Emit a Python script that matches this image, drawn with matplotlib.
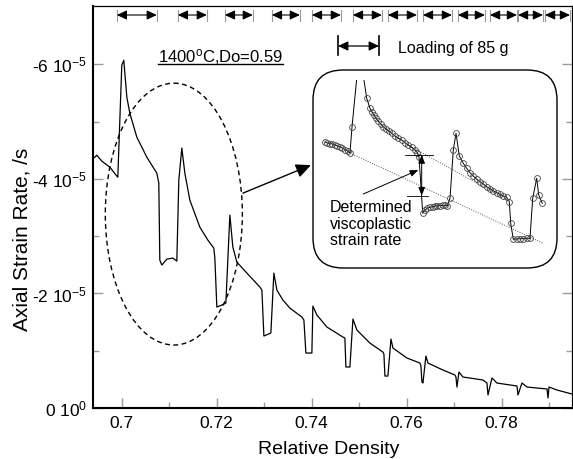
import matplotlib
matplotlib.use("Agg")
import matplotlib.pyplot as plt
import matplotlib.transforms as mtransforms
from matplotlib.patches import Ellipse, FancyBboxPatch

plt.rcParams['font.family'] = ['Liberation Sans', 'DejaVu Sans']
plt.rcParams['mathtext.fontset'] = 'custom'
plt.rcParams['mathtext.rm'] = 'Liberation Sans'
plt.rcParams['mathtext.default'] = 'regular'

# ---- main curve: relative density vs axial strain rate (units of 1e-5 /s)
density = [0.69396, 0.69438, 0.69480, 0.69585, 0.69754, 0.69901, 0.69922,
           0.70006, 0.70048, 0.70112, 0.70175, 0.70322, 0.70533, 0.70743, 0.70785,
           0.70806, 0.70848, 0.70954, 0.71080, 0.71164,
           0.71206, 0.71269, 0.71333, 0.71438, 0.71648, 0.71817, 0.71943, 0.71964,
           0.72006, 0.72112, 0.72196,
           0.72280, 0.72343, 0.72427, 0.72638, 0.72912, 0.72954,
           0.72996, 0.73143,
           0.73206, 0.73270, 0.73396, 0.73543, 0.73796, 0.73838,
           0.73880, 0.74006,
           0.74027, 0.74112, 0.74322, 0.74659, 0.74701,
           0.74722, 0.74806,
           0.74870, 0.74954, 0.75227, 0.75501, 0.75522,
           0.75543, 0.75606,
           0.75670, 0.75712, 0.76006, 0.76280, 0.76301,
           0.76322, 0.76343,
           0.76406, 0.76449, 0.76764, 0.77017, 0.77038,
           0.77059,
           0.77101, 0.77185, 0.77606, 0.77691,
           0.77712,
           0.77796, 0.77901, 0.78322,
           0.78343,
           0.78427, 0.78533, 0.78954,
           0.78975,
           0.78996, 0.79164, 0.79480]
rate = [-4.363, -4.380, -4.415, -4.311, -4.206, -4.049, -4.031,
        -5.986, -6.073, -5.428, -5.148, -4.730, -4.380, -4.101, -3.927,
        -2.583, -2.496, -2.600, -2.618, -2.565,
        -3.979, -4.538, -4.101, -3.630, -3.159, -2.932, -2.792, -2.618,
        -1.763, -1.798, -1.832,
        -3.368, -2.810, -2.548, -2.356, -2.112, -2.059,
        -1.257, -1.309,
        -2.356, -2.059, -1.885, -1.745, -1.588, -1.536,
        -0.960, -0.960,
        -1.780, -1.623, -1.414, -1.239, -1.222,
        -0.716, -0.716,
        -1.553, -1.361, -1.134, -0.977, -0.942,
        -0.558, -0.558,
        -1.204, -1.047, -0.873, -0.785, -0.733,
        -0.454, -0.436,
        -0.908, -0.785, -0.663, -0.576, -0.541,
        -0.366,
        -0.628, -0.541, -0.489, -0.436,
        -0.227,
        -0.524, -0.436, -0.384,
        -0.227,
        -0.436, -0.366, -0.332,
        -0.175,
        -0.366, -0.314, -0.244]

# loading periods (relative density at start / end of each load)
load_start = [0.69901, 0.71185, 0.72175, 0.73164, 0.74006, 0.74869,
              0.75606, 0.76343, 0.77080, 0.77754, 0.78343, 0.78912]
load_end = [0.70743, 0.71796, 0.72764, 0.73754, 0.74617, 0.75480,
            0.76217, 0.76954, 0.77648, 0.78322, 0.78869, 0.79438]

xticks = [0.70, 0.72, 0.74, 0.76, 0.78]
xtick_labels = ['0.7', '0.72', '0.74', '0.76', '0.78']
yticks = [0, -2, -4, -6]
ytick_labels = ['0 10$^0$', '-2 10$^{-5}$', '-4 10$^{-5}$', '-6 10$^{-5}$']

# ---- inset (zoomed view, inset units 0-100)
ins_u = [4.92, 5.94, 6.97, 7.99, 9.02, 10.04, 11.07, 12.09, 13.11, 14.14, 15.16,
         15.98, 19.06,
         22.01, 23.36, 24.06, 25.0, 25.82, 26.76, 27.75, 28.81, 29.92, 31.02, 32.25,
         33.61, 34.96, 36.35, 37.70, 39.06, 40.45, 41.80, 42.75, 43.44,
         44.96, 45.90, 46.84, 47.95, 49.06, 50.0, 50.94, 52.05, 53.16, 54.22, 55.04,
         56.15, 57.50, 58.61, 59.96, 61.60,
         62.99, 64.34, 65.70, 67.09, 68.44, 69.80, 71.19, 72.54, 73.89, 75.29, 76.64,
         77.99, 79.38, 80.45,
         81.03, 82.09, 83.48, 84.84, 86.19, 87.58, 88.93,
         90.04, 91.68, 92.50, 93.98]
ins_w = [67.02, 66.49, 66.22, 65.96, 65.43, 64.89, 64.36, 63.83, 63.03, 62.23, 61.17,
         75.0, 116.0,
         90.27, 84.95, 83.14, 81.38, 79.63, 78.19, 76.60, 75.16, 73.94, 72.87, 71.65,
         70.21, 68.99, 68.09, 66.65, 65.43, 64.20, 62.77, 61.33, 59.20,
         29.10, 30.85, 31.76, 32.29, 32.61, 32.98, 33.14, 33.14, 33.35, 33.35, 32.98,
         37.07, 62.77, 71.65, 59.57, 55.69,
         53.03, 50.69, 48.94, 47.18, 45.90, 44.68, 43.24, 42.18, 41.12, 40.05, 39.20,
         38.30, 37.61, 35.27,
         23.78, 15.27, 15.43, 15.59, 15.59, 15.80, 15.80,
         37.07, 47.71, 38.83, 34.41]
# dotted guide lines (unloaded and loaded trends)
guide_low_u = [15.16, 94.39]
guide_low_w = [61.17, 13.14]
guide_up_u = [38.93, 80.33]
guide_up_w = [65.43, 35.64]

fig = plt.figure(figsize=(5.73, 4.59), dpi=100)
ax = fig.add_axes([93 / 573, 51 / 459, 479 / 573, 402 / 459])

ax.plot(density, rate, color='black', lw=0.9)

ax.set_xticks(xticks)
ax.set_xticklabels(xtick_labels)
ax.set_xticks([0.71, 0.73, 0.75, 0.77, 0.79], minor=True)
ax.set_yticks(yticks)
ax.set_yticklabels(ytick_labels)
ax.set_yticks([-1, -3, -5], minor=True)
ax.set_xlim(0.694, 0.7948)
ax.set_ylim(0, -7.02)
ax.tick_params(which='both', direction='in', color='#9a9a9a', width=1,
               labelsize=12.5, right=True)
ax.tick_params(which='major', length=7)
ax.tick_params(which='minor', length=4)
ax.tick_params(axis='x', pad=6)
ax.tick_params(axis='y', pad=4)
for s in ['left', 'bottom']:
    ax.spines[s].set_linewidth(1.5)
for s in ['top', 'right']:
    ax.spines[s].set_linewidth(0.9)

ax.set_xlabel('Relative Density', fontsize=14)
ax.xaxis.set_label_coords(0.4927, -0.082)
ax.set_ylabel('Axial Strain Rate, /s', fontsize=15, va='center')
ax.yaxis.set_label_coords(-0.148, 0.42)

# loading arrows along the top
trans = mtransforms.blended_transform_factory(ax.transData, ax.transAxes)
for s, e in zip(load_start, load_end):
    ax.annotate('', xy=(e, 0.9776), xytext=(s, 0.9776), xycoords=trans,
                textcoords=trans,
                arrowprops=dict(arrowstyle='<|-|>,head_length=0.6,head_width=0.28',
                                mutation_scale=10, color='black', lw=0.8,
                                shrinkA=0, shrinkB=0))
    for p in (s, e):
        ax.plot([p, p], [0.9627, 0.9910], transform=trans, color='#9a9a9a',
                lw=0.8, clip_on=False)

# key for loading arrow
ax.annotate('', xy=(0.5971, 0.9005), xytext=(0.5115, 0.9005), xycoords='axes fraction',
            arrowprops=dict(arrowstyle='<|-|>,head_length=0.6,head_width=0.28',
                            mutation_scale=10, color='black', lw=0.9,
                            shrinkA=0, shrinkB=0))
for p in (0.5115, 0.5971):
    ax.plot([p, p], [0.8781, 0.9254], transform=ax.transAxes, color='black', lw=1.2)
ax.text(0.6367, 0.8955, 'Loading of 85 g', transform=ax.transAxes, fontsize=11.5,
        ha='left', va='center')

# condition label (underlined)
cond = ax.text(0.1357, 0.8607, '1400$^{o}$C,Do=0.59', transform=ax.transAxes,
               fontsize=12, ha='left', va='baseline')

# dashed ellipse + arrow to inset
ax.add_patch(Ellipse((0.71101, -3.386), width=0.02884, height=4.573, fill=False,
                     ec='black', lw=1.0, ls=(0, (3.5, 2.5))))
ax.annotate('', xy=(0.73985, -4.241), xytext=(0.72554, -3.752),
            arrowprops=dict(arrowstyle='-|>,head_length=0.75,head_width=0.35',
                            mutation_scale=12, color='black', lw=1.0,
                            shrinkA=0, shrinkB=0))

# inset
ins = fig.add_axes([313 / 573, (459 - 268) / 459, 244 / 573, 188 / 459])
ins.axis('off')
ins.set_xlim(0, 100)
ins.set_ylim(0, 100)
ins.add_patch(FancyBboxPatch((0, 0), 1, 198 / 188,
                             boxstyle='round,pad=0,rounding_size=0.123',
                             mutation_aspect=244 / 188, transform=ins.transAxes,
                             fc='white', ec='black', lw=1.0, clip_on=False, zorder=0))
ins.plot(guide_low_u, guide_low_w, color='#555555', lw=0.7, ls=(0, (1, 1.5)))
ins.plot(guide_up_u, guide_up_w, color='#555555', lw=0.7, ls=(0, (1, 1.5)))
ins.plot(ins_u, ins_w, color='black', lw=0.7, marker='o', ms=4.2, mfc='none',
         mec='#444444', mew=0.6)

# viscoplastic strain-rate measurement
ins.plot([37.70, 49.30], [60.11, 60.11], color='black', lw=0.6)
ins.plot([38.39, 47.26], [38.46, 38.46], color='black', lw=0.6)
ins.annotate('', xy=(44.55, 60.11), xytext=(44.55, 38.46),
             arrowprops=dict(arrowstyle='<|-|>,head_length=0.5,head_width=0.2',
                             mutation_scale=10, color='black', lw=0.7,
                             shrinkA=0, shrinkB=0))
ins.annotate('', xy=(43.16, 52.13), xytext=(20.61, 39.36),
             arrowprops=dict(arrowstyle='-|>,head_length=0.5,head_width=0.2',
                             mutation_scale=10, color='black', lw=0.7,
                             shrinkA=0, shrinkB=0))
ins.text(6.97, 23.4, 'Determined\nviscoplastic\nstrain rate', fontsize=11.5,
         ha='left', va='center', linespacing=1.12)

# underline under the condition label
fig.canvas.draw()
bb = cond.get_window_extent().transformed(ax.transAxes.inverted())
ax.plot([bb.x0, bb.x1], [bb.y0 + 0.006, bb.y0 + 0.006], transform=ax.transAxes,
        color='black', lw=1.0)

fig.savefig('out.png', dpi=100)
